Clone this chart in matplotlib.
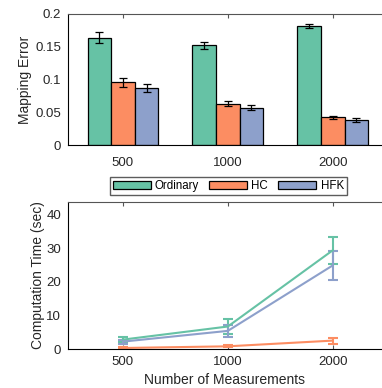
import numpy as np
import matplotlib.pyplot as plt

# %% Daten

n_meas = ['500', '1000', '2000']
methods = ['Ordinary', 'HC', 'HFK']
colors = ['#66c2a5', '#fc8d62', '#8da0cb']

err_mean = [[0.164, 0.152, 0.181],
            [0.096, 0.063, 0.042],
            [0.087, 0.057, 0.038]]
err_std = [[0.009, 0.005, 0.003],
           [0.007, 0.004, 0.0025],
           [0.0065, 0.0035, 0.0025]]

time_mean = [[2.8, 6.7, 29.4],
             [0.3, 0.8, 2.5],
             [2.2, 5.4, 24.9]]
time_std = [[0.7, 2.3, 4.1],
            [0.2, 0.3, 0.9],
            [0.6, 1.7, 4.3]]

plt.rcParams['font.family'] = ['Liberation Sans', 'DejaVu Sans']
txt = '#262626'

fig = plt.figure(figsize=(3.82, 3.88), dpi=100)

# %% Mapping Error

ax = fig.add_axes([68/382, 1-145/388, 1-68/382, 131/388])
x = np.arange(1, 4)
w = 0.225
for i, m in enumerate(methods):
    ax.bar(x + (i-1)*w, err_mean[i], w, yerr=err_std[i], color=colors[i],
           edgecolor='black', linewidth=0.9, label=m,
           error_kw=dict(ecolor='black', elinewidth=0.9, capsize=3, capthick=0.9))
ax.set_xlim(0.476, 3.47)
ax.set_ylim(0, 0.2)
ax.set_xticks(x)
ax.set_xticklabels(n_meas)
ax.set_yticks([0, 0.05, 0.1, 0.15, 0.2])
ax.set_yticklabels(['0', '0.05', '0.1', '0.15', '0.2'])
ax.set_ylabel('Mapping Error', fontsize=10, color=txt, labelpad=2)
ax.tick_params(axis='x', direction='in', top=True, bottom=False, length=3,
               labelsize=9.5, labelcolor=txt, color='#555555', pad=9)
ax.tick_params(axis='y', length=0, labelsize=9.5, labelcolor=txt, pad=5)
ax.spines['right'].set_visible(False)
ax.spines['top'].set_color('#555555')
ax.legend(ncol=3, loc='upper center', bbox_to_anchor=(0.51, -0.2), fontsize=8.3,
          frameon=True, fancybox=False, edgecolor='#333333', handlelength=3.3,
          handletextpad=0.35, columnspacing=0.9, borderpad=0.25)

# %% Computation Time

ax = fig.add_axes([68/382, 1-349/388, 1-68/382, 147/388])
for i, m in enumerate(methods):
    ax.errorbar(x, time_mean[i], yerr=time_std[i], color=colors[i], linewidth=1.5,
                capsize=3.5, capthick=1.5, elinewidth=1.5)
ax.set_xlim(0.476, 3.47)
ax.set_ylim(0, 43.8)
ax.set_xticks(x)
ax.set_xticklabels(n_meas)
ax.set_yticks([0, 10, 20, 30, 40])
ax.set_xlabel('Number of Measurements', fontsize=10, color=txt)
ax.set_ylabel('Computation Time (sec)', fontsize=10, color=txt, labelpad=1)
ax.tick_params(axis='x', direction='in', top=True, bottom=True, length=3,
               labelsize=9.5, labelcolor=txt, color='#555555', pad=5)
ax.tick_params(axis='y', length=0, labelsize=9.5, labelcolor=txt, pad=5)
ax.spines['right'].set_visible(False)
ax.spines['top'].set_color('#555555')

fig.savefig('out.png', dpi=100)
